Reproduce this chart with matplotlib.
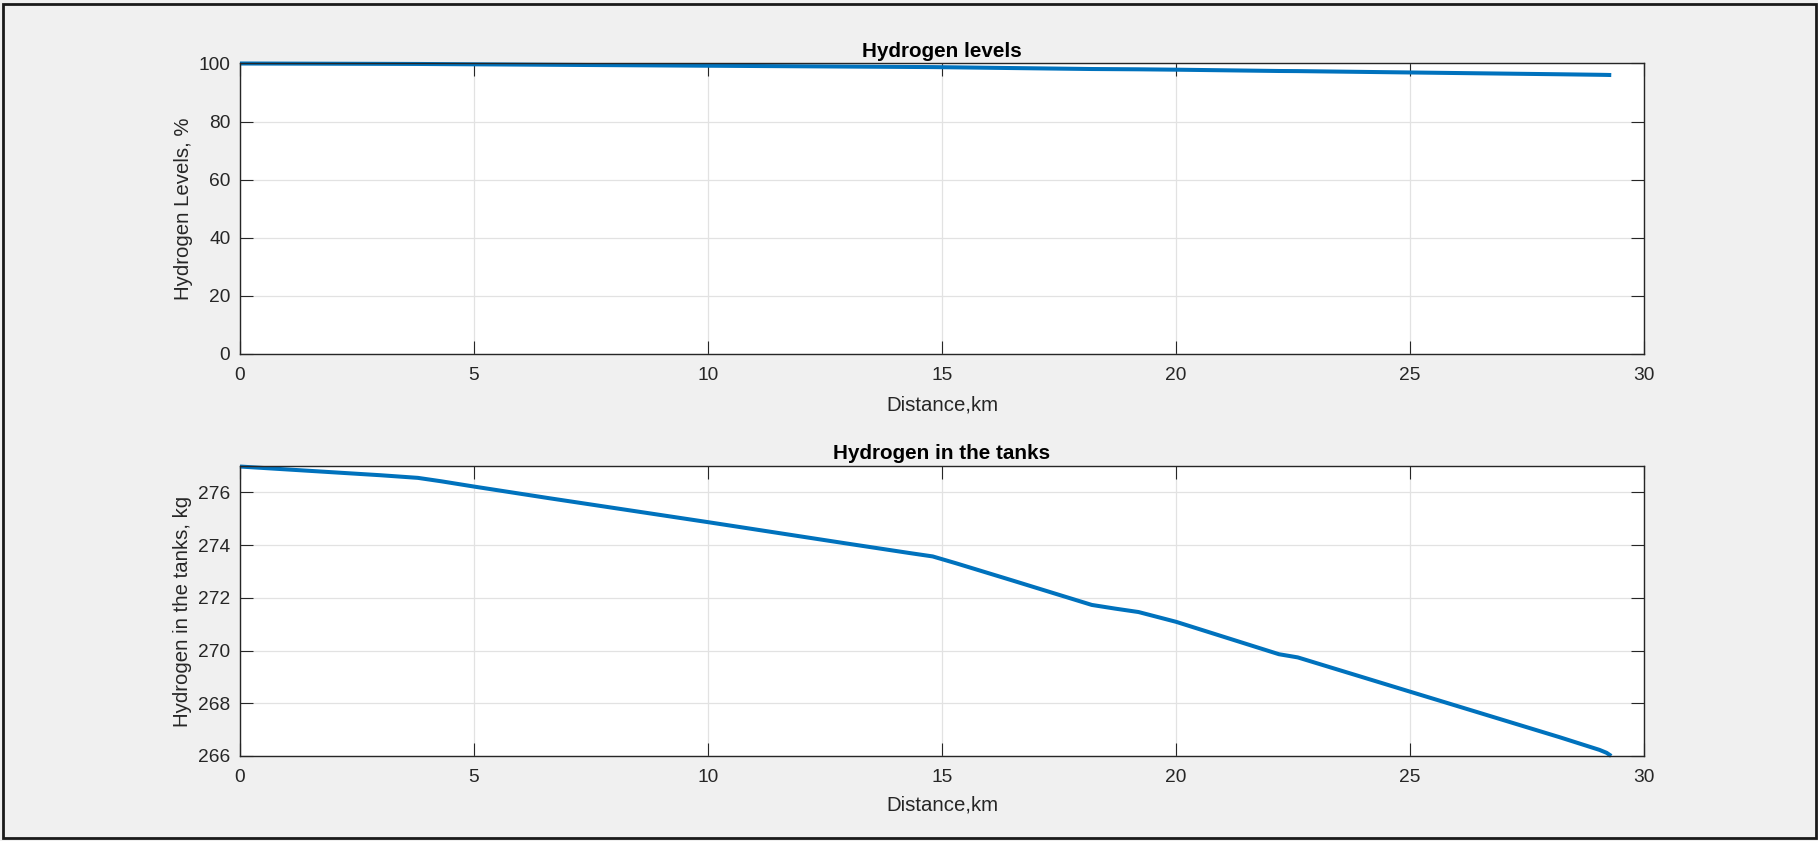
import matplotlib
matplotlib.use("Agg")
import matplotlib.pyplot as plt
from matplotlib.patches import Rectangle

# Distance travelled along the route, km
distance_km = [0.0, 1.0, 2.0, 3.0, 3.8, 4.3, 5.0, 6.6, 10.0, 13.0, 14.3, 14.8,
               15.3, 16.5, 18.2, 18.7, 19.2, 20.0, 22.2, 22.6, 25.0, 28.2,
               29.05, 29.2, 29.3]

# Hydrogen mass remaining in the tanks, kg
hydrogen_kg = [276.98, 276.87, 276.76, 276.65, 276.55, 276.42, 276.22, 275.78,
               274.87, 274.05, 273.70, 273.57, 273.31, 272.66, 271.73, 271.59,
               271.46, 271.09, 269.86, 269.74, 268.44, 266.71, 266.23, 266.12,
               266.0]

# Hydrogen level relative to a full tank, %
hydrogen_pct = [100.0, 99.96, 99.92, 99.88, 99.84, 99.79, 99.72, 99.56,
                99.23, 98.94, 98.81, 98.76, 98.67, 98.43, 98.10, 98.05,
                98.00, 97.87, 97.42, 97.38, 96.91, 96.29, 96.11, 96.07, 96.03]

x_ticks = [0, 5, 10, 15, 20, 25, 30]
pct_ticks = [0, 20, 40, 60, 80, 100]
kg_ticks = [266, 268, 270, 272, 274, 276]

BG = "#f0f0f0"
INK = "#262626"
GRID = "#e2e2e2"
LINE = "#0072bd"

plt.rcParams["font.family"] = ["Liberation Sans", "DejaVu Sans"]

fig = plt.figure(figsize=(18.18, 8.41), dpi=100, facecolor=BG)

ax_top = fig.add_axes([0.1320, 0.5791, 0.7723, 0.3454])
ax_bot = fig.add_axes([0.1320, 0.1011, 0.7723, 0.3448])


def style(ax):
    ax.set_facecolor("white")
    for s in ax.spines.values():
        s.set_color(INK)
        s.set_linewidth(1.0)
    ax.grid(True, color=GRID, linewidth=0.9)
    ax.set_axisbelow(True)
    ax.tick_params(direction="in", length=9.5, width=0.8, colors=INK,
                   labelsize=13.8, top=True, right=True)
    ax.tick_params(axis="x", pad=9.5)
    ax.tick_params(axis="y", pad=7)
    ax.set_xlim(0, 30)
    ax.set_xticks(x_ticks)


style(ax_top)
ax_top.plot(distance_km, hydrogen_pct, color=LINE, linewidth=2.9,
            clip_on=False, solid_capstyle="butt")
ax_top.set_ylim(0, 100)
ax_top.set_yticks(pct_ticks)
ax_top.set_title("Hydrogen levels", fontsize=14.9, fontweight="bold",
                 color="black", pad=4.5)
ax_top.set_xlabel("Distance,km", fontsize=14.7, color=INK, labelpad=8)
ax_top.set_ylabel("Hydrogen Levels, %", fontsize=14.7, color=INK, labelpad=4)

style(ax_bot)
ax_bot.plot(distance_km, hydrogen_kg, color=LINE, linewidth=2.9,
            clip_on=False, solid_capstyle="butt")
ax_bot.set_ylim(266, 277)
ax_bot.set_yticks(kg_ticks)
ax_bot.set_title("Hydrogen in the tanks", fontsize=14.9, fontweight="bold",
                 color="black", pad=5)
ax_bot.set_xlabel("Distance,km", fontsize=14.7, color=INK, labelpad=7)
ax_bot.set_ylabel("Hydrogen in the tanks, kg", fontsize=14.7, color=INK,
                  labelpad=4)

# window frame around the figure
fig.patches.append(Rectangle((3 / 1818, 3 / 841), 1813 / 1818, 834 / 841,
                             transform=fig.transFigure, fill=False,
                             edgecolor="#1a1a1a", linewidth=2.0))

fig.savefig("out.png", dpi=100, facecolor=BG)
